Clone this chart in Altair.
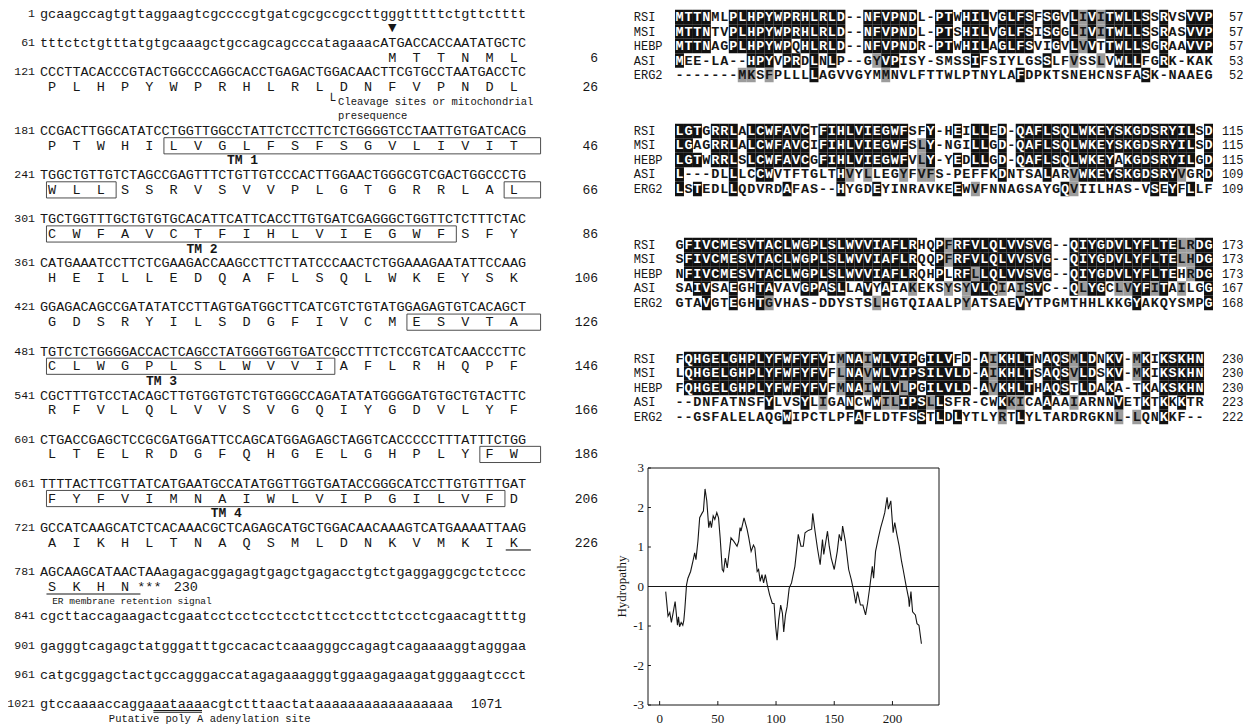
import altair as alt
import pandas as pd
from collections import Counter

# ---------------- data ----------------
nt_start = [1, 61, 121, 181, 241, 301, 361, 421, 481, 541, 601, 661, 721, 781, 841, 901, 961, 1021]
nt_seq = [
    "gcaagccagtgttaggaagtcgccccgtgatcgcgccgccttgggtttttctgttctttt",
    "tttctctgtttatgtgcaaagctgccagcagcccatagaaacATGACCACCAATATGCTC",
    "CCCTTACACCCGTACTGGCCCAGGCACCTGAGACTGGACAACTTCGTGCCTAATGACCTC",
    "CCGACTTGGCATATCCTGGTTGGCCTATTCTCCTTCTCTGGGGTCCTAATTGTGATCACG",
    "TGGCTGTTGTCTAGCCGAGTTTCTGTTGTCCCACTTGGAACTGGGCGTCGACTGGCCCTG",
    "TGCTGGTTTGCTGTGTGCACATTCATTCACCTTGTGATCGAGGGCTGGTTCTCTTTCTAC",
    "CATGAAATCCTTCTCGAAGACCAAGCCTTCTTATCCCAACTCTGGAAAGAATATTCCAAG",
    "GGAGACAGCCGATATATCCTTAGTGATGGCTTCATCGTCTGTATGGAGAGTGTCACAGCT",
    "TGTCTCTGGGGACCACTCAGCCTATGGGTGGTGATCGCCTTTCTCCGTCATCAACCCTTC",
    "CGCTTTGTCCTACAGCTTGTGGTGTCTGTGGGCCAGATATATGGGGATGTGCTGTACTTC",
    "CTGACCGAGCTCCGCGATGGATTCCAGCATGGAGAGCTAGGTCACCCCCTTTATTTCTGG",
    "TTTTACTTCGTTATCATGAATGCCATATGGTTGGTGATACCGGGCATCCTTGTGTTTGAT",
    "GCCATCAAGCATCTCACAAACGCTCAGAGCATGCTGGACAACAAAGTCATGAAAATTAAG",
    "AGCAAGCATAACTAAagagacggagagtgagctgagacctgtctgaggaggcgctctccc",
    "cgcttaccagaagactcgaatcctcctcctcctcttcctccttctcctcgaacagttttg",
    "gagggtcagagctatgggatttgccacactcaaagggccagagtcagaaaaggtagggaa",
    "catgcggagctactgccagggaccatagagaaagggtggaagagaagatgggaagtccct",
    "gtccaaaaccaggaaataaaacgtctttaactataaaaaaaaaaaaaaaaa",
]
aa_rows = [
    "MTTNML", "PLHPYWPRHLRLDNFVPNDL", "PTWHILVGLFSFSGVLIVIT", "WLLSSRVSVVPLGTGRRLAL",
    "CWFAVCTFIHLVIEGWFSFY", "HEILLEDQAFLSQLWKEYSK", "GDSRYILSDGFIVCMESVTA",
    "CLWGPLSLWVVIAFLRHQPF", "RFVLQLVVSVGQIYGDVLYF", "LTELRDGFQHGELGHPLYFW",
    "FYFVIMNAIWLVIPGILVFD", "AIKHLTNAQSMLDNKVMKIK", "SKHN",
]
start_codon_nt = 103
tm_names = ["TM 1", "TM 2", "TM 3", "TM 4"]
tm_ranges = [(32, 49), (66, 83), (122, 138), (185, 205)]

aln_names = ["RSI", "MSI", "HEBP", "ASI", "ERG2"]
aln_blocks = [
    ["MTTNMLPLHPYWPRHLRLD--NFVPNDL-PTWHILVGLFSFSGVLIVITWLLSSRVSVVP",
     "MTTNTVPLHPYWPRHLRLD--NFVPNDL-PTSHILVGLFSISGGLIVITWLLSSRASVVP",
     "MTTNAGPLHPYWPQHLRLD--NFVPNDR-PTWHILAGLFSVIGVLVVTTWLLSGRAAVVP",
     "MEE-LA--HPYVPRDLNLP--GYVPISY-SMSSIFSIYLGSSLFVSSLVWLLFGRK-KAK",
     "-------MKSFPLLLLAGVVGYMMNVLFTTWLPTNYLAFDPKTSNEHCNSFASK-NAAEG"],
    ["LGTGRRLALCWFAVCTFIHLVIEGWFSFY-HEILLED-QAFLSQLWKEYSKGDSRYILSD",
     "LGAGRRLALCWFAVCIFIHLVIEGWFSLY-NGILLGD-QAFLSQLWKEYSKGDSRYILSD",
     "LGTWRRLSLCWFAVCGFIHLVIEGWFVLY-YEDLLGD-QAFLSQLWKEYAKGDSRYILGD",
     "L---DLLLCCWVTFTGLTHVYLLEGYFVFS-PEFFKDNTSALARVWKEYSKGDSRYVGRD",
     "LSTEDLLQDVRDAFAS--HYGDEYINRAVKEEWVFNNAGSAYGQVIILHAS-VSEYFLLF"],
    ["GFIVCMESVTACLWGPLSLWVVIAFLRHQPFRFVLQLVVSVG--QIYGDVLYFLTELRDG",
     "SFIVCMESVTACLWGPLSLWVVIAFLRQQPFRFVLQLVVSVG--QIYGDVLYFLTELHDG",
     "NFIVCMESVTACLWGPLSLWVVIAFLRQHPLRFLLQLVVSVG--QIYGDVLYFLTEHRDG",
     "SAIVSAEGHTAVAVGPASLLAVYAIAKEKSYSYVLQIAISVC--QLYGCLVYFITAILGG",
     "GTAVGTEGHTGVHAS-DDYSTSLHGTQIAALPYATSAEVYTPGMTHHLKKGYAKQYSMPG"],
    ["FQHGELGHPLYFWFYFVIMNAIWLVIPGILVFD-AIKHLTNAQSMLDNKV-MKIKSKHN",
     "LQHGELGHPLYFWFYFVFLNAVWLVIPSILVLD-AIKHLTSAQSVLDSKV-MKIKSKHN",
     "FQHGELGHPLYFWFYFVFMNAIWLVLPGILVLD-AVKHLTHAQSTLDAKA-TKAKSKHN",
     "--DNFATNSFYLVSYLIGANCWWILIPSLLSFR-CWKKICAAAAIARNNVETKTKKKTR",
     "--GSFALELAQGWIPCTLPFAFLDTFSSTLDLYTLYRTLYLTARDRGKNL-LQNKKF--"],
]
aln_ends = [[57, 57, 57, 53, 52], [115, 115, 115, 109, 109],
            [173, 173, 173, 167, 168], [230, 230, 230, 223, 222]]

hyd_x = [5.2, 7.2, 8.7, 10.1, 11.3, 13.3, 15.3, 16.2, 17.1, 18.5, 19.9, 20.8, 21.7, 23.1, 24.3, 26.6,
         28.9, 30.1, 31.2, 32.9, 34.4, 36.7, 37.6, 39.0, 40.5, 42.2, 43.4, 44.5, 46.0, 47.4, 49.1, 50.6,
         52.0, 53.8, 54.9, 56.4, 58.1, 59.5, 61.3, 63.6, 66.5, 67.9, 69.1, 69.9, 72.5, 75.1, 76.6, 78.6,
         80.6, 81.8, 83.8, 85.0, 86.4, 87.9, 89.3, 90.8, 92.5, 94.5, 96.8, 98.3, 99.7, 100.9, 102.3, 104.0,
         105.5, 106.6, 108.1, 109.5, 111.3, 113.3, 116.2, 117.6, 119.1, 121.4, 123.4, 124.9, 127.7, 130.6,
         131.5, 133.5, 135.5, 137.9, 139.9, 141.0, 144.2, 145.7, 147.4, 150.0, 152.6, 154.3, 156.1, 157.2,
         159.5, 162.4, 164.7, 166.8, 168.5, 170.0, 172.5, 174.6, 176.9, 178.6, 180.6, 182.7, 183.8, 185.5,
         187.9, 189.9, 191.9, 193.4, 195.4, 196.5, 198.6, 200.6, 202.0, 203.8, 205.8, 207.8, 209.2, 211.6,
         213.9, 214.5, 215.9, 217.3, 219.7, 221.1, 222.8, 224.9]
hyd_y = [-0.13, -0.75, -0.66, -0.91, -0.71, -0.38, -0.98, -0.77, -1.02, -0.91, -0.98, -0.85,
         -0.55, 0.04, 0.21, 0.38, 0.68, 0.85, 0.68, 1.15, 1.74, 1.87, 1.91, 2.47, 2.17,
         1.49, 1.66, 1.49, 1.79, 1.70, 1.87, 1.74, 1.23,
         0.43, 0.38, 0.72, 0.47, 0.81, 1.23, 1.15, 1.02, 1.15, 1.49, 1.40, 1.74, 1.45, 1.23, 0.89, 1.05, 0.98,
         0.38, 0.43, 0.13, 0.30, 0.09, 0.30, 0.04, -0.21, -0.43, -0.43,
         -1.02, -1.36, -0.85, -0.47, -0.68, -1.15, -0.72, -0.51, -0.04, 0.09,
         0.51, 0.89, 1.32, 1.02, 1.02, 1.36, 1.42, 1.45, 1.85, 1.40,
         0.98, 0.55, 1.19, 0.81, 1.40, 1.02, 0.72, 0.43, 0.89, 1.32,
         1.15, 1.53, 1.15, 0.43, 0.17, -0.13, -0.43, -0.13, -0.47, -0.47,
         -0.72, -0.43, 0.00, 0.51, 0.21, 0.89, 1.23, 1.49, 1.70, 1.87,
         2.26, 1.96, 2.17, 1.36, 1.62, 1.32, 1.02, 0.64, 0.43, 0.04,
         -0.30, -0.51, -0.13, -0.64, -0.72, -0.94, -0.98, -1.45]
hyd_xticks = [0, 50, 100, 150, 200]
hyd_yticks = [3, 2, 1, 0, -1, -2, -3]
hyd_xdomain = [-10, 240]
hyd_ydomain = [-3, 3]

# ---------------- layout ----------------
MONO = "Liberation Mono"
SERIF = "Liberation Serif"
INK = "#161616"
row_line = [0, 2, 4, 8, 11, 14, 17, 20, 23, 26, 29, 32, 35, 38, 41, 43, 45, 47]


def lx(f):
    return alt.X(f + ":Q", scale=alt.Scale(domain=[0, 60], range=[32, 518]), axis=None)


def ly(f):
    return alt.Y(f + ":Q", scale=alt.Scale(domain=[0, 48], range=[5.5, 711]), axis=None)


def ax(f):
    return alt.X(f + ":Q", scale=alt.Scale(domain=[0, 60], range=[667, 1205]), axis=None)


def ay(f):
    return alt.Y(f + ":Q", scale=alt.Scale(domain=[0, 30], range=[9, 444]), axis=None)


def hx(f):
    return alt.X(f + ":Q", scale=alt.Scale(domain=hyd_xdomain, range=[640, 931]), axis=None)


def hy(f):
    return alt.Y(f + ":Q", scale=alt.Scale(domain=hyd_ydomain, range=[697, 460]), axis=None)


def codon(k):
    nt = start_codon_nt + 3 * k
    return (nt - 1) // 60, (nt - 1) % 60


protein = "".join(aa_rows)

# --- left panel frames
df_nuc = pd.DataFrame({"line": row_line, "col": 0, "txt": nt_seq})
df_num = pd.DataFrame({"line": row_line, "col": -0.62, "txt": [str(n) for n in nt_start]})

aa_recs = []
last_in_row = {}
for k, a in enumerate(protein):
    j, c = codon(k)
    aa_recs.append({"line": row_line[j] + 1, "col": c + 1.5, "txt": a})
    last_in_row[j] = k + 1
j, c = codon(len(protein))
aa_recs.append({"line": row_line[j] + 1, "col": c + 1.5, "txt": "***"})
stop_row, stop_col = j, c
df_aa = pd.DataFrame(aa_recs)

df_cnt = pd.DataFrame([{"line": row_line[j] + 1, "col": 68.9, "txt": str(n)}
                       for j, n in last_in_row.items() if j != stop_row])

df_ann = pd.DataFrame([
    {"line": row_line[stop_row] + 1, "col": stop_col + 4.5, "txt": str(len(protein)), "fs": 13.5},
    {"line": 6, "col": 36.8, "txt": "Cleavage sites or mitochondrial", "fs": 10.5},
    {"line": 7, "col": 36.8, "txt": "presequence", "fs": 10.5},
    {"line": 40, "col": 1.5, "txt": "ER membrane retention signal", "fs": 9.5},
    {"line": 48, "col": 8.5, "txt": "Putative poly A adenylation site", "fs": 10.5},
    {"line": 47, "col": 53.2, "txt": "1071", "fs": 13},
])
df_sym = pd.DataFrame([
    {"line": 1, "col": 43.5, "txt": "▼", "fs": 11},
    {"line": 5.95, "col": 36.0, "txt": "└", "fs": 13},
])
df_tm = pd.DataFrame([
    {"line": L, "col": C, "txt": t} for t, L, C in zip(tm_names, [10, 16, 25, 34], [25, 20, 15, 23])
])

box_recs = []
for (a0, a1) in tm_ranges:
    segs = {}
    for k in range(a0 - 1, a1):
        j, c = codon(k)
        segs.setdefault(j, []).append(c)
    rows = sorted(segs)
    for j in rows:
        cs = segs[j]
        left = 0.8 if j != rows[0] else min(cs) + 0.3
        right = 61.8 if j != rows[-1] else max(cs) + 3.4
        L = row_line[j] + 1
        box_recs.append({"x0": left, "x1": right, "y0": L - 0.55, "y1": L + 0.55})
df_box = pd.DataFrame(box_recs)

j, c = codon(225)
under_recs = [{"x0": c + 0.5, "x1": c + 3.6, "y": row_line[j] + 1 + 0.5}]
j0, c0 = codon(226)
j1, c1 = codon(229)
under_recs.append({"x0": 0.8, "x1": c1 + 3.4, "y": row_line[j0] + 1 + 0.5})
polyA = nt_seq[-1].find("aataaa")
under_recs.append({"x0": polyA, "x1": polyA + 6, "y": 47 + 0.42})
under_recs.append({"x0": polyA, "x1": polyA + 6, "y": 47 + 0.54})
df_under = pd.DataFrame(under_recs)

# --- alignment frames
groups = ["ILVM", "FYW", "KRH", "DE", "NQ", "ST", "AG", "P", "C"]


def grp(ch):
    for g in groups:
        if ch in g:
            return g
    return ch


BLOCK = 7.862
cells = []
for b, blk in enumerate(aln_blocks):
    ncol = len(blk[0])
    for c in range(ncol):
        col = [s[c] if c < len(s) else "-" for s in blk]
        res = [x for x in col if x != "-"]
        cnt = Counter(res)
        cons, n = cnt.most_common(1)[0] if res else ("-", 0)
        gcnt = Counter(grp(x) for x in res)
        gbest, gn = gcnt.most_common(1)[0] if res else ("-", 0)
        for r, ch in enumerate(col):
            bg = "none"
            if ch != "-":
                if n >= 3 and ch == cons:
                    bg = "#111111"
                elif n >= 3 and grp(ch) == grp(cons):
                    bg = "#9c9c9c"
                elif n < 3 and gn >= 3 and grp(ch) == gbest:
                    bg = "#9c9c9c"
            pos = b * BLOCK + r
            cells.append({"c0": c, "c1": c + 1, "cc": c + 0.5, "pos": pos,
                          "p0": pos - 0.5, "p1": pos + 0.5, "ch": ch, "bg": bg,
                          "tc": "#ffffff" if bg == "#111111" else INK})
df_cells = pd.DataFrame(cells)
df_bg = df_cells[df_cells["bg"] != "none"]

lab_recs, end_recs = [], []
for b in range(len(aln_blocks)):
    for r, nm in enumerate(aln_names):
        lab_recs.append({"col": -4.6, "pos": b * BLOCK + r, "txt": nm})
        end_recs.append({"col": 63.4, "pos": b * BLOCK + r, "txt": str(aln_ends[b][r])})
df_lab = pd.DataFrame(lab_recs)
df_end = pd.DataFrame(end_recs)

# --- hydropathy frames
df_h = pd.DataFrame({"x": hyd_x, "y": hyd_y})
df_frame = pd.DataFrame([{"x0": hyd_xdomain[0], "x1": hyd_xdomain[1],
                          "y0": hyd_ydomain[0], "y1": hyd_ydomain[1]}])
df_zero = pd.DataFrame([{"x0": hyd_xdomain[0], "x1": hyd_xdomain[1], "y": 0}])
df_xt = pd.DataFrame({"x": hyd_xticks, "y0": hyd_ydomain[0], "y1": hyd_ydomain[0] + 0.1,
                      "txt": [str(v) for v in hyd_xticks]})
df_yt = pd.DataFrame({"y": hyd_yticks, "x0": hyd_xdomain[0], "x1": hyd_xdomain[0] + 2.5,
                      "txt": [str(v) for v in hyd_yticks]})
df_title = pd.DataFrame([{"x": hyd_xdomain[0] - 22, "y": 0, "txt": "Hydropathy"}])

# ---------------- layers ----------------
layers = []
layers.append(alt.Chart(df_nuc).mark_text(align="left", baseline="middle", font=MONO,
                                          fontSize=13.5, color=INK)
              .encode(x=lx("col"), y=ly("line"), text="txt:N"))
layers.append(alt.Chart(df_num).mark_text(align="right", baseline="middle", font=MONO,
                                          fontSize=11.5, color=INK)
              .encode(x=lx("col"), y=ly("line"), text="txt:N"))
layers.append(alt.Chart(df_aa).mark_text(align="center", baseline="middle", font=MONO,
                                         fontSize=13.5, color=INK)
              .encode(x=lx("col"), y=ly("line"), text="txt:N"))
layers.append(alt.Chart(df_cnt).mark_text(align="right", baseline="middle", font=MONO,
                                          fontSize=13, color=INK)
              .encode(x=lx("col"), y=ly("line"), text="txt:N"))
layers.append(alt.Chart(df_ann).mark_text(align="left", baseline="middle", font=MONO, color=INK)
              .encode(x=lx("col"), y=ly("line"), text="txt:N", size=alt.Size("fs:Q", scale=None)))
layers.append(alt.Chart(df_sym).mark_text(align="center", baseline="middle", font="DejaVu Sans",
                                          color=INK)
              .encode(x=lx("col"), y=ly("line"), text="txt:N", size=alt.Size("fs:Q", scale=None)))
layers.append(alt.Chart(df_tm).mark_text(align="center", baseline="middle", font=MONO,
                                         fontSize=13, fontWeight="bold", color=INK)
              .encode(x=lx("col"), y=ly("line"), text="txt:N"))
layers.append(alt.Chart(df_box).mark_rect(fill="white", fillOpacity=0, stroke="#3a3a3a",
                                          strokeWidth=0.9)
              .encode(x=lx("x0"), x2="x1", y=ly("y0"), y2="y1"))
layers.append(alt.Chart(df_under).mark_rule(color=INK, strokeWidth=1.1)
              .encode(x=lx("x0"), x2="x1", y=ly("y")))

layers.append(alt.Chart(df_bg).mark_rect()
              .encode(x=ax("c0"), x2="c1", y=ay("p0"), y2="p1",
                      color=alt.Color("bg:N", scale=None)))
layers.append(alt.Chart(df_cells).mark_text(align="center", baseline="middle", font=MONO,
                                            fontSize=13.5, fontWeight="bold")
              .encode(x=ax("cc"), y=ay("pos"), text="ch:N", color=alt.Color("tc:N", scale=None)))
layers.append(alt.Chart(df_lab).mark_text(align="left", baseline="middle", font=MONO,
                                          fontSize=12, color=INK)
              .encode(x=ax("col"), y=ay("pos"), text="txt:N"))
layers.append(alt.Chart(df_end).mark_text(align="right", baseline="middle", font=MONO,
                                          fontSize=12, color=INK)
              .encode(x=ax("col"), y=ay("pos"), text="txt:N"))

layers.append(alt.Chart(df_frame).mark_rect(fill="white", fillOpacity=0, stroke=INK,
                                            strokeWidth=1)
              .encode(x=hx("x0"), x2="x1", y=hy("y0"), y2="y1"))
layers.append(alt.Chart(df_zero).mark_rule(color=INK, strokeWidth=1)
              .encode(x=hx("x0"), x2="x1", y=hy("y")))
layers.append(alt.Chart(df_h).mark_line(color=INK, strokeWidth=1.1)
              .encode(x=hx("x"), y=hy("y"), order="x:Q"))
layers.append(alt.Chart(df_xt).mark_rule(color=INK, strokeWidth=1)
              .encode(x=hx("x"), y=hy("y0"), y2="y1"))
layers.append(alt.Chart(df_yt).mark_rule(color=INK, strokeWidth=1)
              .encode(x=hx("x0"), x2="x1", y=hy("y")))
layers.append(alt.Chart(df_xt).mark_text(align="center", baseline="middle", font=SERIF,
                                         fontSize=13, dy=14, color=INK)
              .encode(x=hx("x"), y=hy("y0"), text="txt:N"))
layers.append(alt.Chart(df_yt).mark_text(align="right", baseline="middle", font=SERIF,
                                         fontSize=13, dx=-4, color=INK)
              .encode(x=hx("x0"), y=hy("y"), text="txt:N"))
layers.append(alt.Chart(df_title).mark_text(align="center", baseline="middle", font=SERIF,
                                            fontSize=13, angle=270, color=INK)
              .encode(x=hx("x"), y=hy("y"), text="txt:N"))

chart = (alt.layer(*layers)
         .resolve_scale(x="independent", y="independent", color="independent", size="independent")
         .properties(width=1236, height=719, padding=0, autosize="none", background="white")
         .configure_view(stroke=None))

chart.save("out.html", embed_options={"renderer": "svg", "actions": False})
